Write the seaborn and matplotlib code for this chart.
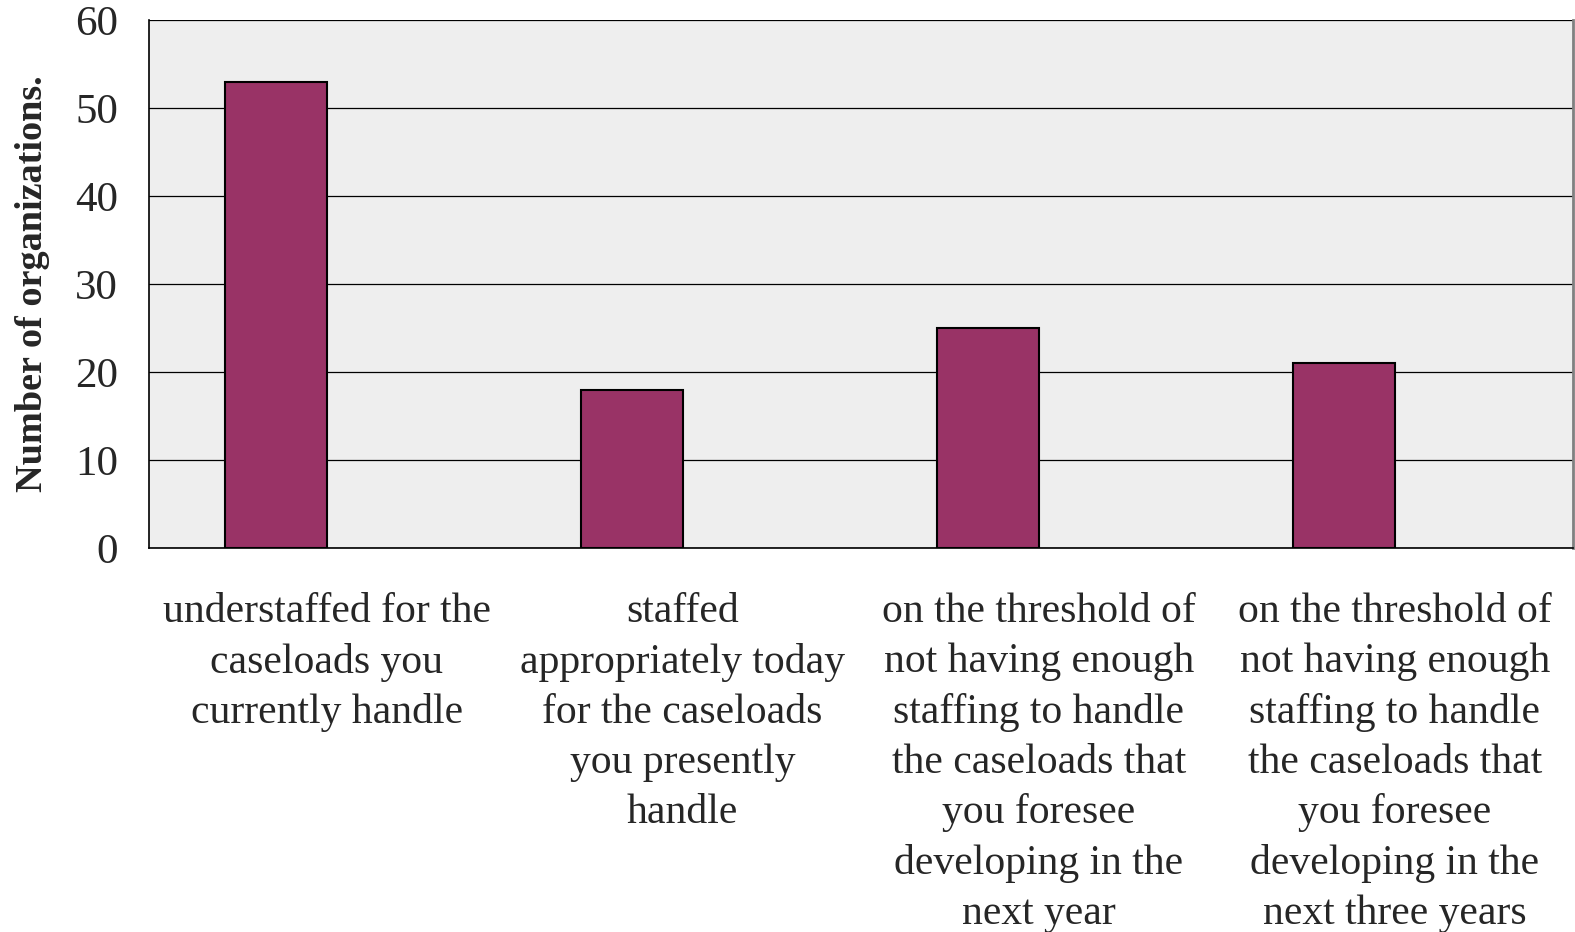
import matplotlib
matplotlib.use("Agg")
import matplotlib.pyplot as plt
from matplotlib.ticker import FixedLocator, MultipleLocator
import seaborn as sns
import pandas as pd

# values
categories = [
    "understaffed for the\ncaseloads you\ncurrently handle",
    "staffed\nappropriately today\nfor the caseloads\nyou presently\nhandle",
    "on the threshold of\nnot having enough\nstaffing to handle\nthe caseloads that\nyou foresee\ndeveloping in the\nnext year",
    "on the threshold of\nnot having enough\nstaffing to handle\nthe caseloads that\nyou foresee\ndeveloping in the\nnext three years",
]
counts = [53, 18, 25, 21]
# Excel chart had a second (empty) series, which pushes the bars left
series_names = ["Organizations", "(empty)"]

df = pd.DataFrame({"Category": categories, "Count": counts, "Series": series_names[0]})

sns.set_theme(style="white")
plt.rcParams["font.family"] = ["Liberation Serif", "DejaVu Serif"]

fig = plt.figure(figsize=(15.75, 9.32), dpi=100)
ax = fig.add_axes([0.0943, 0.412, 0.9044, 0.5665])
ax.set_facecolor("#EEEEEE")

sns.barplot(
    data=df, x="Category", y="Count", hue="Series",
    hue_order=series_names, order=categories,
    palette=["#993366", "#993366"], saturation=1, width=2 / 3.5, dodge=True,
    edgecolor="black", linewidth=1.5, legend=False, ax=ax, zorder=3,
)

ax.set_xlim(-0.5, len(categories) - 0.5)
ax.set_ylim(0, 60)
ax.yaxis.set_major_locator(MultipleLocator(10))
ax.grid(axis="y", color="black", linewidth=0.9, zorder=0)
ax.set_axisbelow(True)

# category boundaries carry the tick marks, labels sit in the middle
ax.xaxis.set_minor_locator(FixedLocator([i - 0.5 for i in range(len(categories) + 1)]))
ax.tick_params(axis="x", which="major", length=0, pad=32, labelsize=30)
ax.tick_params(axis="x", which="minor", length=10, width=1, color="black", direction="out")
ax.tick_params(axis="y", length=10, width=1, color="black", direction="out", pad=12, labelsize=31)
for lab in ax.get_xticklabels():
    lab.set_linespacing(1.39)
    lab.set_ha("center")

ax.set_xlabel("")
ax.set_ylabel("Number of organizations.", fontsize=27.5, fontweight="bold", labelpad=18)

for side in ["left", "bottom"]:
    ax.spines[side].set_color("black")
    ax.spines[side].set_linewidth(1.2)
ax.spines["top"].set_visible(False)
ax.spines["right"].set_color("#808080")
ax.spines["right"].set_linewidth(2)

fig.savefig("out.png", dpi=100)
